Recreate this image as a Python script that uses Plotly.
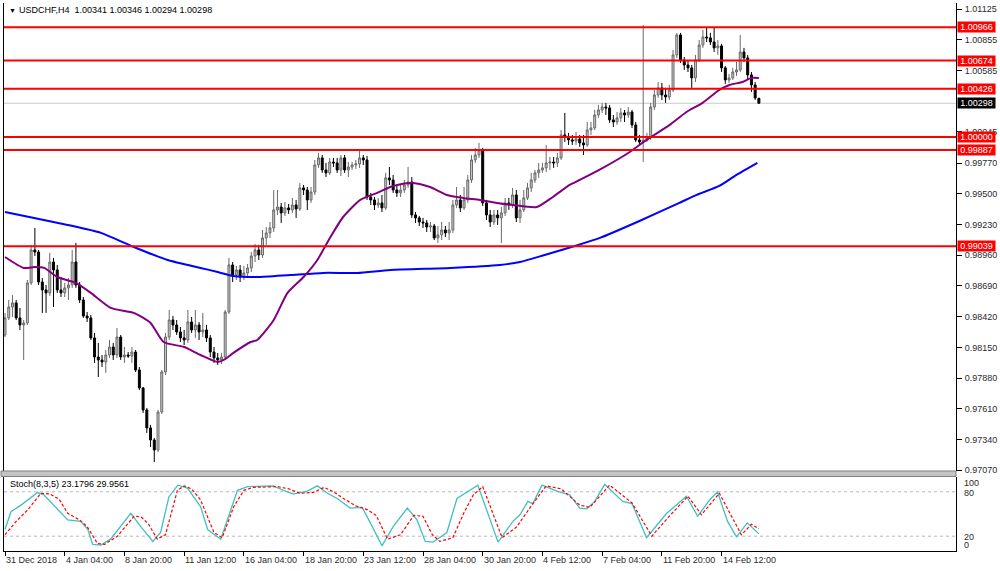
import plotly.graph_objects as go

# ---------------- data ----------------
bar_open = [
0.98259,0.98409,0.98505,0.98541,0.98409,0.98347,0.98365,0.98717,0.99007,0.98989,
0.98725,0.98655,0.98629,0.98901,0.98831,0.98655,0.98629,0.98673,0.98699,0.98901,
0.98699,0.98567,0.98426,0.98409,0.98233,0.98065,0.98039,0.98021,0.98083,0.98153,
0.98083,0.98241,0.98065,0.98083,0.98074,0.98109,0.97951,0.97793,0.97599,0.97441,
0.97335,0.97247,0.97581,0.97933,0.98241,0.98391,0.98347,0.98285,0.98233,0.98215,
0.98373,0.98303,0.98347,0.98285,0.98303,0.98233,0.98109,0.98057,0.98039,0.98065,
0.98461,0.98875,0.98787,0.98831,0.98769,0.98805,0.98849,0.98954,0.99007,0.98963,
0.99113,0.99157,0.99201,0.99359,0.99385,0.99333,0.99377,0.99359,0.99403,0.99368,
0.99553,0.99535,0.99447,0.99517,0.99755,0.99817,0.99711,0.99685,0.99781,0.99773,
0.99711,0.99817,0.99711,0.99737,0.99755,0.99764,0.99817,0.99799,0.99473,0.99447,
0.99403,0.99421,0.99377,0.99641,0.99623,0.99535,0.99509,0.99535,0.99579,0.99605,
0.99315,0.99289,0.99253,0.99245,0.99209,0.99218,0.99113,0.99139,0.99183,0.99157,
0.99183,0.99403,0.99447,0.99377,0.99447,0.99623,0.99799,0.99843,0.99887,0.99421,
0.99315,0.99253,0.99315,0.99289,0.99333,0.99421,0.99403,0.99491,0.99289,0.99359,
0.99465,0.99553,0.99623,0.99685,0.99711,0.99729,0.99773,0.99781,0.99773,0.99817,
1.00019,1.00001,0.99975,0.99966,0.99984,0.99949,0.99931,1.00063,1.00081,1.00195,
1.00239,1.00265,1.00257,1.00151,1.00133,1.00169,1.00213,1.00195,1.00221,1.00107,
0.99975,0.99957,0.99975,0.99993,1.00265,1.00371,1.00433,1.00371,1.00353,1.00415,
1.00723,1.00899,1.00679,1.00635,1.00609,1.00521,1.00679,1.00811,1.00881,1.00873,
1.00837,1.00785,1.00802,1.00609,1.00503,1.00521,1.00573,1.00591,1.00749,1.00697,
1.00547,1.00459,1.00341]

bar_high = [
0.98453,0.98567,0.98611,0.98567,0.98497,0.98391,0.98743,0.99051,0.99201,0.99007,
0.98761,0.98699,0.98981,0.98937,0.98875,0.98769,0.98717,0.98761,0.99007,0.99069,
0.98725,0.98593,0.98461,0.98435,0.98277,0.98189,0.98083,0.98127,0.98215,0.98189,
0.98321,0.98259,0.98153,0.98109,0.98153,0.98127,0.97977,0.97801,0.97617,0.97467,
0.97353,0.97599,0.97951,0.98277,0.98479,0.98426,0.98391,0.98329,0.98303,0.98479,
0.98417,0.98479,0.98373,0.98453,0.98347,0.98259,0.98153,0.98101,0.98101,0.98479,
0.98937,0.98901,0.98866,0.98875,0.98866,0.98884,0.98989,0.99060,0.99051,0.99183,
0.99209,0.99253,0.99535,0.99535,0.99421,0.99429,0.99412,0.99465,0.99447,0.99597,
0.99579,0.99561,0.99561,0.99799,0.99861,0.99843,0.99773,0.99817,0.99817,0.99817,
0.99843,0.99843,0.99781,0.99781,0.99799,0.99887,0.99843,0.99834,0.99509,0.99473,
0.99465,0.99491,0.99685,0.99737,0.99667,0.99579,0.99579,0.99623,0.99737,0.99649,
0.99341,0.99306,0.99289,0.99271,0.99253,0.99236,0.99218,0.99253,0.99218,0.99253,
0.99447,0.99561,0.99491,0.99561,0.99667,0.99843,0.99905,0.99949,0.99905,0.99447,
0.99359,0.99359,0.99359,0.99385,0.99465,0.99465,0.99553,0.99535,0.99447,0.99535,
0.99597,0.99685,0.99711,0.99773,0.99773,0.99931,0.99825,0.99825,0.99861,1.00063,
1.00213,1.00037,1.00019,1.00045,1.00019,1.00019,1.00133,1.00133,1.00239,1.00283,
1.00301,1.00301,1.00283,1.00195,1.00221,1.00257,1.00239,1.00265,1.00239,1.00133,
1.00019,1.00987,1.00037,1.00301,1.00415,1.00485,1.00477,1.00433,1.00459,1.00767,
1.00917,1.00917,1.00705,1.00679,1.00635,1.00723,1.00855,1.00943,1.00969,1.00917,
1.00969,1.00855,1.00820,1.00626,1.00556,1.00609,1.00661,1.00899,1.00785,1.00723,
1.00573,1.00485,1.00346]

bar_low = [
0.98241,0.98391,0.98417,0.98391,0.98303,0.98039,0.98347,0.98699,0.98954,0.98699,
0.98453,0.98453,0.98602,0.98505,0.98629,0.98593,0.98593,0.98567,0.98673,0.98673,
0.98541,0.98409,0.98373,0.98215,0.98013,0.97889,0.97977,0.97925,0.98057,0.98039,
0.98057,0.98039,0.98013,0.98057,0.98013,0.97933,0.97775,0.97573,0.97397,0.97273,
0.97141,0.97229,0.97564,0.97907,0.98215,0.98303,0.98259,0.98197,0.98171,0.98189,
0.98277,0.98233,0.98215,0.98241,0.98197,0.98065,0.98013,0.97995,0.98004,0.98039,
0.98444,0.98725,0.98743,0.98725,0.98743,0.98761,0.98813,0.98901,0.98919,0.98937,
0.99051,0.99113,0.99165,0.99315,0.99245,0.99306,0.99324,0.99333,0.99289,0.99350,
0.99491,0.99359,0.99421,0.99491,0.99729,0.99685,0.99649,0.99667,0.99737,0.99685,
0.99658,0.99685,0.99649,0.99711,0.99720,0.99729,0.99755,0.99447,0.99403,0.99359,
0.99377,0.99341,0.99359,0.99579,0.99509,0.99473,0.99473,0.99509,0.99553,0.99289,
0.99245,0.99218,0.99201,0.99165,0.99165,0.99095,0.99069,0.99095,0.99121,0.99095,
0.99157,0.99377,0.99341,0.99359,0.99421,0.99597,0.99773,0.99817,0.99394,0.99271,
0.99209,0.99227,0.99227,0.99069,0.99306,0.99359,0.99377,0.99253,0.99245,0.99341,
0.99447,0.99517,0.99597,0.99641,0.99685,0.99693,0.99711,0.99729,0.99737,0.99799,
0.99957,0.99931,0.99931,0.99931,0.99913,0.99843,0.99913,1.00019,1.00063,1.00169,
1.00213,1.00195,1.00125,1.00089,1.00107,1.00133,1.00133,1.00169,1.00081,0.99957,
0.99931,0.99781,0.99957,0.99975,1.00239,1.00345,1.00327,1.00301,1.00327,1.00397,
1.00697,1.00653,1.00591,1.00573,1.00433,1.00485,1.00661,1.00785,1.00837,1.00811,
1.00749,1.00723,1.00573,1.00468,1.00477,1.00503,1.00538,1.00573,1.00661,1.00503,
1.00397,1.00327,1.00294]

bar_close = [
0.98409,0.98505,0.98541,0.98409,0.98347,0.98365,0.98717,0.99007,0.98989,0.98725,
0.98655,0.98629,0.98901,0.98831,0.98655,0.98629,0.98673,0.98699,0.98901,0.98699,
0.98567,0.98426,0.98409,0.98233,0.98065,0.98039,0.98021,0.98083,0.98153,0.98083,
0.98241,0.98065,0.98083,0.98074,0.98109,0.97951,0.97793,0.97599,0.97441,0.97335,
0.97247,0.97581,0.97933,0.98241,0.98391,0.98347,0.98285,0.98233,0.98215,0.98373,
0.98303,0.98347,0.98285,0.98303,0.98233,0.98109,0.98057,0.98039,0.98065,0.98461,
0.98875,0.98787,0.98831,0.98769,0.98805,0.98849,0.98954,0.99007,0.98963,0.99113,
0.99157,0.99201,0.99359,0.99385,0.99333,0.99377,0.99359,0.99403,0.99368,0.99553,
0.99535,0.99447,0.99517,0.99755,0.99817,0.99711,0.99685,0.99781,0.99773,0.99711,
0.99817,0.99711,0.99737,0.99755,0.99764,0.99817,0.99799,0.99473,0.99447,0.99403,
0.99421,0.99377,0.99641,0.99623,0.99535,0.99509,0.99535,0.99579,0.99605,0.99315,
0.99289,0.99253,0.99245,0.99209,0.99218,0.99113,0.99139,0.99183,0.99157,0.99183,
0.99403,0.99447,0.99377,0.99447,0.99623,0.99799,0.99843,0.99887,0.99421,0.99315,
0.99253,0.99315,0.99289,0.99333,0.99421,0.99403,0.99491,0.99289,0.99359,0.99465,
0.99553,0.99623,0.99685,0.99711,0.99729,0.99773,0.99781,0.99773,0.99817,1.00019,
1.00001,0.99975,0.99966,0.99984,0.99949,0.99931,1.00063,1.00081,1.00195,1.00239,
1.00265,1.00257,1.00151,1.00133,1.00169,1.00213,1.00195,1.00221,1.00107,0.99975,
0.99957,0.99975,0.99993,1.00265,1.00371,1.00433,1.00371,1.00353,1.00415,1.00723,
1.00899,1.00679,1.00635,1.00609,1.00521,1.00679,1.00811,1.00881,1.00873,1.00837,
1.00785,1.00802,1.00609,1.00503,1.00521,1.00573,1.00591,1.00749,1.00697,1.00547,
1.00459,1.00345,1.00298]

# purple moving average (bar index, price)
ma_fast_idx = [0, 5, 8, 10.5, 14, 19, 23, 28.3, 34.5, 39, 42.5, 48, 52.4, 57, 58.6, 61.2,
               65.8, 67.6, 72, 75.7, 80, 83.7, 87.2, 90.6, 95.2, 99.7, 103.2, 105.1, 109.4,
               113.9, 118.4, 122.7, 127.3, 131.8, 136.1, 142.5, 146.8, 151.3, 154, 160.2,
               167.4, 171.9, 178.1, 182.6, 186.9, 191.4, 194.1, 197.6, 200, 202]
ma_fast_val = [0.98945, 0.98849, 0.98857, 0.98849, 0.98769, 0.98717, 0.98629, 0.98497,
               0.98453, 0.98365, 0.98197, 0.98153, 0.98083, 0.98021, 0.98039, 0.98101,
               0.98197, 0.98215, 0.98391, 0.98629, 0.98769, 0.98919, 0.99121, 0.99297,
               0.99447, 0.99509, 0.99561, 0.99579, 0.99597, 0.99561, 0.99491, 0.99465,
               0.99447, 0.99421, 0.99403, 0.99385, 0.99473, 0.99579, 0.99623, 0.99729,
               0.99869, 0.99975, 1.00107, 1.00221, 1.00301, 1.00415, 1.00459, 1.00485,
               1.00521, 1.00521]

# blue moving average (bar index, price)
ma_slow_idx = [0, 7.8, 16.8, 25.7, 34.5, 43.6, 52.4, 57, 61.2, 67.6, 76.5, 85.3, 94.4,
               103.2, 119.3, 132.6, 138, 144.6, 152.7, 159.4, 170, 180.7, 185.3, 191.4,
               196, 201.6]
ma_slow_val = [0.99341, 0.99289, 0.99227, 0.99157, 0.99033, 0.98919, 0.98849, 0.98813,
               0.98778, 0.98769, 0.98787, 0.98805, 0.98805, 0.98831, 0.98849, 0.98875,
               0.98901, 0.98963, 0.99042, 0.99113, 0.99262, 0.99421, 0.99491, 0.99570,
               0.99667, 0.99773]

# horizontal levels
red_levels = [1.00966, 1.00674, 1.00426, 1.00000, 0.99887, 0.99039]
bid_price = 1.00298
price_ticks = [1.01125, 1.00855, 1.00585, 1.00045, 0.99770, 0.99500, 0.99230,
               0.98960, 0.98690, 0.98420, 0.98150, 0.97880, 0.97610, 0.97340, 0.97070]

# stochastic (8,3,5)
stoch_main_idx = [0, 1.6, 4.3, 8.7, 10.4, 13.1, 16.8, 20.3, 22.2, 23.5, 25.7, 28.3, 31, 33.7,
                  36.4, 39.6, 41.7, 43.9, 46.3, 48.9, 52.4, 54.3, 57.8, 60.4, 62.3, 65, 71.9,
                  74.6, 77.3, 81, 83.7, 86.4, 89, 92.5, 95.7, 97.9, 101, 104, 107.8, 110.4,
                  112.6, 114.7, 118.4, 121.1, 123.8, 126.7, 132.1, 136.1, 138, 140.1, 141.4,
                  143.9, 147.9, 151.3, 154, 155.9, 158, 160.7, 165.5, 168, 171.9, 177.3,
                  182.6, 185.6, 188.8, 190.9, 193.6, 196, 198.9, 202]
stoch_main_val = [29, 53, 62, 79, 76, 62, 42, 40, 29, 9, 8, 16, 33, 51, 33, 13, 25, 73, 89,
                  85, 60, 29, 16, 56, 82, 87, 88, 82, 77, 81, 88, 78, 71, 58, 59, 38, 7, 33,
                  58, 42, 13, 12, 25, 71, 80, 89, 12, 40, 49, 67, 64, 89, 81, 76, 58, 57, 67,
                  90, 67, 64, 18, 51, 74, 47, 69, 80, 40, 19, 38, 23.18]
stoch_sig_idx = [0, 3, 6, 9.6, 12, 14.5, 16.8, 20, 22, 24.8, 26.7, 30.1, 34.6, 36.5, 38.5,
                 40.8, 43, 46.2, 48, 50, 52.4, 56, 58.2, 61.3, 64, 66.5, 73, 76, 79, 82.5,
                 85.5, 88, 91, 94, 97, 99.5, 102.5, 106, 109.5, 112, 114.5, 116.5, 120, 123,
                 125.5, 128, 133.2, 137, 140.6, 145, 149, 154, 156.7, 162, 168, 173.3, 178,
                 183, 186.6, 191.4, 197.3, 200, 202]
stoch_sig_val = [22, 40, 55, 78, 77, 70, 51, 42, 33, 10, 9, 20, 47, 46, 36, 16, 22, 82, 88,
                 84, 69, 25, 18, 60, 82, 86, 87, 84, 78, 79, 86, 80, 70, 61, 56, 48, 16, 22,
                 48, 47, 22, 13, 18, 52, 76, 87, 18, 32, 58, 88, 84, 62, 59, 89, 65, 20, 47,
                 74, 49, 78, 22, 36, 29.96]
stoch_levels = [20, 80]

time_tick_idx = [0, 16, 32, 48, 64, 80, 96, 112, 128, 144, 160, 176, 192]
time_tick_text = ["31 Dec 2018", "4 Jan 04:00", "8 Jan 20:00", "11 Jan 12:00", "16 Jan 04:00",
                  "18 Jan 20:00", "23 Jan 12:00", "28 Jan 04:00", "30 Jan 20:00",
                  "4 Feb 12:00", "7 Feb 04:00", "11 Feb 20:00", "14 Feb 12:00"]

title_text = "USDCHF,H4  1.00341 1.00346 1.00294 1.00298"
stoch_text = "Stoch(8,3,5) 23.1796 29.9561"

# ---------------- geometry (pixels) ----------------
W, H = 1000, 571
L, R, T, B = 3, 957, 3, 551          # plot area
PH = B - T
def py(px):  # pixel row -> paper y
    return (B - px) / PH
def pxx(px):  # pixel col -> paper x
    return (px - L) / (R - L)

FONT = "Liberation Sans, Arial, sans-serif"
TXT = "#2a2a2a"

bar_idx = list(range(len(bar_close)))

fig = go.Figure()

fig.add_trace(go.Candlestick(
    x=bar_idx, open=bar_open, high=bar_high, low=bar_low, close=bar_close,
    increasing=dict(line=dict(color="#6a6a6a", width=1), fillcolor="#c8c8c8"),
    decreasing=dict(line=dict(color="#000000", width=1), fillcolor="#000000"),
    whiskerwidth=0, hoverinfo="skip", xaxis="x", yaxis="y"))

fig.add_trace(go.Scatter(x=ma_slow_idx, y=ma_slow_val, mode="lines",
                         line=dict(color="#0000ff", width=2, shape="spline", smoothing=0.6),
                         hoverinfo="skip", xaxis="x", yaxis="y"))
fig.add_trace(go.Scatter(x=ma_fast_idx, y=ma_fast_val, mode="lines",
                         line=dict(color="#800080", width=2, shape="spline", smoothing=0.6),
                         hoverinfo="skip", xaxis="x", yaxis="y"))

fig.add_trace(go.Scatter(x=stoch_main_idx, y=stoch_main_val, mode="lines",
                         line=dict(color="#40c0c0", width=1.3),
                         hoverinfo="skip", xaxis="x", yaxis="y2"))
fig.add_trace(go.Scatter(x=stoch_sig_idx, y=stoch_sig_val, mode="lines",
                         line=dict(color="#ff0000", width=1.2, dash="3px,2px"),
                         hoverinfo="skip", xaxis="x", yaxis="y2"))

shapes = []
# current bid line (light gray)
shapes.append(dict(type="line", xref="paper", x0=0, x1=1, yref="y", y0=bid_price, y1=bid_price,
                   line=dict(color="#c8c8c8", width=1), layer="below"))
for lv in red_levels:
    shapes.append(dict(type="line", xref="paper", x0=0, x1=1, yref="y", y0=lv, y1=lv,
                       line=dict(color="#ff0000", width=2)))
for lv in stoch_levels:
    shapes.append(dict(type="line", xref="paper", x0=0, x1=1, yref="y2", y0=lv, y1=lv,
                       line=dict(color="#b8b8b8", width=1, dash="dot"), layer="below"))
# separator between main window and indicator window
shapes.append(dict(type="rect", xref="paper", x0=pxx(0), x1=pxx(R), yref="paper",
                   y0=py(476.5), y1=py(471), fillcolor="#c4c4c4",
                   line=dict(color="#808080", width=1)))

ann = []
ann.append(dict(text="▼", x=pxx(6), y=py(10), xref="paper", yref="paper", xanchor="left",
                yanchor="middle", showarrow=False, font=dict(family=FONT, size=7, color="#000")))
ann.append(dict(text=title_text, x=pxx(16), y=py(10), xref="paper", yref="paper",
                xanchor="left", yanchor="middle", showarrow=False,
                font=dict(family=FONT, size=9, color="#000")))
ann.append(dict(text=stoch_text, x=pxx(7), y=py(484), xref="paper", yref="paper",
                xanchor="left", yanchor="middle", showarrow=False,
                font=dict(family=FONT, size=9, color="#000")))
for lv in red_levels:
    ann.append(dict(text="%.5f" % lv, x=pxx(958), y=lv, xref="paper", yref="y",
                    xanchor="left", yanchor="middle", showarrow=False, bgcolor="#ff0000",
                    width=37, height=10, borderpad=0, align="center",
                    font=dict(family=FONT, size=9, color="#ffffff")))
ann.append(dict(text="%.5f" % bid_price, x=pxx(958), y=bid_price, xref="paper", yref="y",
                xanchor="left", yanchor="middle", showarrow=False, bgcolor="#000000",
                width=37, height=10, borderpad=0, align="center",
                font=dict(family=FONT, size=9, color="#ffffff")))
for v, yy in [("100", 483), ("80", 492.7), ("20", 536.7), ("0", 545)]:
    ann.append(dict(text=v, x=pxx(963), y=py(yy), xref="paper", yref="paper",
                    xanchor="left", yanchor="middle", showarrow=False,
                    font=dict(family=FONT, size=9, color=TXT)))
for i, t in zip(time_tick_idx, time_tick_text):
    ann.append(dict(text=t, x=i, y=py(560), xref="x", yref="paper", xanchor="left",
                    yanchor="middle", xshift=-1, showarrow=False,
                    font=dict(family=FONT, size=9, color=TXT)))

x_left = (L - 4) / 3.74
x_right = (R - 4) / 3.74

fig.update_layout(
    width=W, height=H,
    margin=dict(l=L, r=W - R, t=T, b=H - B, pad=0),
    paper_bgcolor="white", plot_bgcolor="white",
    showlegend=False, boxgap=0.25,
    xaxis=dict(range=[x_left, x_right], anchor="y2", showgrid=False, zeroline=False,
               showline=True, linecolor="#000", linewidth=1,
               tickvals=time_tick_idx, ticktext=[""] * len(time_tick_idx),
               ticks="outside", ticklen=4, tickcolor="#000",
               rangeslider=dict(visible=False), fixedrange=True),
    yaxis=dict(domain=[py(471), 1], range=[0.97062, 1.01180], side="right",
               showgrid=False, zeroline=False, showline=True, linecolor="#000",
               linewidth=1, mirror=True,
               tickvals=price_ticks, ticktext=["%.5f" % v for v in price_ticks],
               ticks="outside", ticklen=5, tickcolor="#000", ticklabelstandoff=1,
               tickfont=dict(family=FONT, size=9, color=TXT), fixedrange=True),
    yaxis2=dict(domain=[0, py(477)], range=[0, 100], side="right", showgrid=False,
                zeroline=False, showline=True, linecolor="#000", linewidth=1, mirror=True,
                showticklabels=False, ticks="", fixedrange=True),
    shapes=shapes, annotations=ann,
)

fig.write_html("out.html", config={"displayModeBar": False},
               post_script="document.body.style.margin='0';document.body.style.overflow='hidden';")
